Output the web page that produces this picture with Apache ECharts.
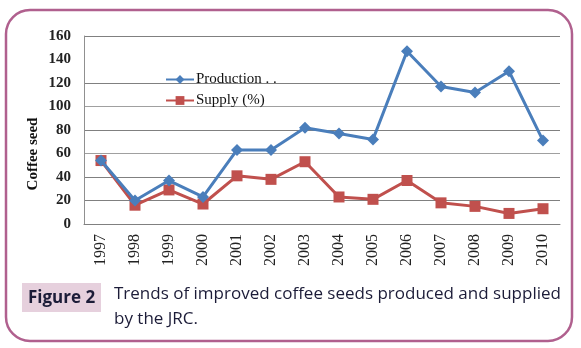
<!DOCTYPE html>
<html><head><meta charset="utf-8">
<script src="https://cdn.jsdelivr.net/npm/echarts@6/dist/echarts.min.js"></script>
<style>html,body{margin:0;padding:0;background:#fff}#c{width:581px;height:348px}</style>
</head><body><div id="c"></div>
<script>
const years = ['1997','1998','1999','2000','2001','2002','2003','2004','2005','2006','2007','2008','2009','2010'];
const production = [54, 20, 37, 23, 63, 63, 82, 77, 72, 147, 117, 112, 130, 71];
const supply = [54, 16, 29, 17, 41, 38, 53, 23, 21, 37, 18, 15, 9, 13];
const yTicks = {min: 0, max: 160, interval: 20};

const serif = '"Liberation Serif", "DejaVu Serif", serif';
const chart = echarts.init(document.getElementById('c'), null, {renderer: 'canvas'});
chart.setOption({
  animation: false,
  backgroundColor: '#fff',
  grid: {left: 84, right: 21, top: 36, bottom: 124, containLabel: false},
  legend: {
    orient: 'vertical', left: 165, top: 72, padding: 0, itemWidth: 28, itemHeight: 11, itemGap: 6,
    textStyle: {fontFamily: serif, fontSize: 15, color: '#111', padding: [0,0,0,-3]},
    data: [{name: 'Production . .'}, {name: 'Supply (%)'}]
  },
  xAxis: {
    type: 'category', data: years, boundaryGap: true,
    axisLine: {lineStyle: {color: '#808080', width: 1}},
    axisTick: {show: false},
    axisLabel: {rotate: 90, margin: 10, fontFamily: serif, fontSize: 16, color: '#222'}
  },
  yAxis: {
    type: 'value', min: yTicks.min, max: yTicks.max, interval: yTicks.interval,
    axisLine: {show: true, lineStyle: {color: '#909090'}},
    axisTick: {show: false},
    axisLabel: {margin: 13, fontFamily: serif, fontSize: 15, fontWeight: 'bold', color: '#222'},
    splitLine: {show: true, lineStyle: {width: 1, color: ['#808080','#808080','#808080','#a0a0a0','#808080','#a0a0a0','#808080','rgba(0,0,0,0)','#808080']}}
  },
  series: [
    {name: 'Production . .', type: 'line', data: production, symbol: 'diamond', symbolSize: 12,
     lineStyle: {color: '#4a7ebb', width: 3}, itemStyle: {color: '#4a7ebb'}, z: 3},
    {name: 'Supply (%)', type: 'line', data: supply, symbol: 'rect', symbolSize: 11,
     lineStyle: {color: '#c0504d', width: 3}, itemStyle: {color: '#c0504d'}, z: 2}
  ],
  graphic: [
    {type: 'rect', shape: {x: 6, y: 10, width: 566, height: 331, r: 24}, z: -10,
     style: {fill: 'none', stroke: '#b0608e', lineWidth: 2.5}},
    {type: 'text', x: 33, y: 154, rotation: Math.PI/2,
     style: {text: 'Coffee seed', fontFamily: serif, fontSize: 15, fontWeight: 'bold', fill: '#111', align: 'center', verticalAlign: 'middle'}},
    {type: 'rect', shape: {x: 22, y: 283, width: 79, height: 29}, style: {fill: '#e6d0dd'}},
    {type: 'text', x: 61.5, y: 298, style: {text: 'Figure 2', fontFamily: '"Open Sans", sans-serif', fontSize: 17, fontWeight: 'bold', fill: '#1c1c38', align: 'center', verticalAlign: 'middle'}},
    {type: 'text', x: 114, y: 294, style: {text: 'Trends of improved coffee seeds produced and supplied', fontFamily: '"Open Sans", sans-serif', fontSize: 17, fill: '#1c1c38', verticalAlign: 'middle'}},
    {type: 'text', x: 114, y: 319, style: {text: 'by the JRC.', fontFamily: '"Open Sans", sans-serif', fontSize: 17, fill: '#1c1c38', verticalAlign: 'middle'}}
  ]
});
</script></body></html>
